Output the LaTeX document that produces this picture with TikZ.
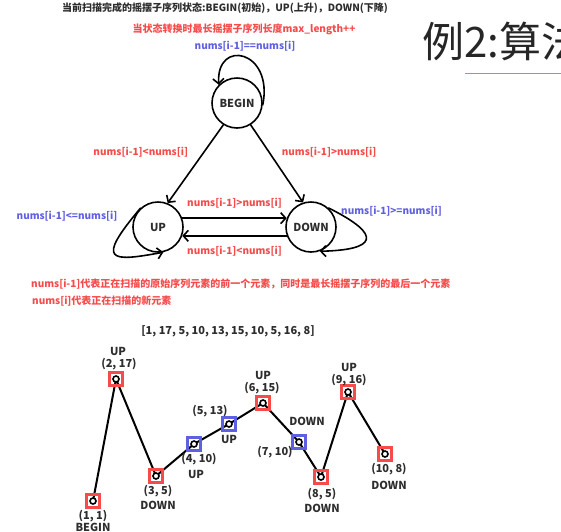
\documentclass[tikz,border=0pt]{standalone}
\usepackage{fontspec}
\setmainfont{Noto Sans CJK SC}
\usetikzlibrary{arrows.meta}
\definecolor{lblred}{RGB}{245,75,75}
\definecolor{lblblue}{RGB}{95,95,225}
\definecolor{inkgray}{RGB}{45,45,45}
\tikzset{
  state/.style={circle, draw=black, line width=1.6pt, minimum size=50pt, inner sep=0pt,
    text=inkgray, font=\fontsize{11}{12}\selectfont\bfseries},
  trans/.style={line width=1.6pt, -{Straight Barb[length=5pt,width=11pt]}},
  redtext/.style={text=lblred, inner sep=1pt, font=\fontsize{10}{12}\selectfont\bfseries},
  bluetext/.style={text=lblblue, inner sep=1pt, font=\fontsize{10}{12}\selectfont\bfseries},
  ptred/.style={draw=lblred, line width=2.3pt, minimum size=13pt, inner sep=0pt},
  ptblue/.style={draw=lblblue, line width=2.3pt, minimum size=13pt, inner sep=0pt},
  ptlabel/.style={text=inkgray, inner sep=0pt, font=\fontsize{11}{13}\selectfont\bfseries},
}
\begin{document}
\begin{tikzpicture}[x=1pt, y=-1pt]
	\useasboundingbox (0,0) rectangle (561,531);
	\clip (0,0) rectangle (561,531);

	% Header texts
	\node[text=inkgray, font=\fontsize{10}{12}\selectfont\bfseries] (title) at (225,8)
		{当前扫描完成的摇摆子序列状态:BEGIN(初始)，UP(上升)，DOWN(下降)};
	\node[redtext] (rule) at (244,29) {当状态转换时最长摇摆子序列长度max\_length++};
	\node[anchor=west, text=black!85, font=\fontsize{42}{46}\selectfont] (slide) at (419,41) {例2:算法};
	\coordinate (ulA) at (465,73);
	\coordinate (ulB) at (561,73);
	\draw[lblred!80, line width=1pt] (ulA) -- (ulB);

	% The three states
	\node[state] (begin) at (237,103) {BEGIN};
	\node[state] (up) at (158,227) {UP};
	\node[state] (down) at (311,227) {DOWN};

	% Transitions
	\draw[trans] (begin.-5) .. controls (274,50) and (216,38) .. (begin.135);
	\node[bluetext] (eqlbl) at (245,46) {nums[i-1]==nums[i]};
	\draw[trans] (begin.238) -- (up.68)
		node[pos=.35, left=14pt, redtext] (bulbl) {nums[i-1]<nums[i]};
	\draw[trans] (begin.-58) -- (down.108)
		node[pos=.35, right=11pt, redtext] (bdlbl) {nums[i-1]>nums[i]};
	\draw[trans] (up.20) -- (down.160)
		node[midway, above=8pt, redtext] (udlbl) {nums[i-1]>nums[i]};
	\draw[trans] (down.200) -- (up.-20)
		node[midway, below=9pt, redtext] (dulbl) {nums[i-1]<nums[i]};
	\draw[trans] (up.132) .. controls (95,262) and (110,262) .. (up.-78);
	\draw[trans] (down.48) .. controls (385,236) and (375,250) .. (down.-70);
	\node[bluetext] (uplbl) at (67,216) {nums[i-1]<=nums[i]};
	\node[bluetext, anchor=west] (downlbl) at (340,211) {nums[i-1]>=nums[i]};

	% Notes
	\node[redtext, anchor=west] (note1) at (30,284)
		{nums[i-1]代表正在扫描的原始序列元素的前一个元素，同时是最长摇摆子序列的最后一个元素};
	\node[redtext, anchor=west] (note2) at (31,301) {nums[i]代表正在扫描的新元素};
	\node[ptlabel] (seq) at (228,331) {[1, 17, 5, 10, 13, 15, 10, 5, 16, 8]};

	% Points of the sequence
	\coordinate (p1) at (93,501);
	\coordinate (p2) at (116,379);
	\coordinate (p3) at (156,476);
	\coordinate (p4) at (194,444);
	\coordinate (p5) at (229,424);
	\coordinate (p6) at (263,403);
	\coordinate (p7) at (299,442);
	\coordinate (p8) at (321,477);
	\coordinate (p9) at (348,392);
	\coordinate (p10) at (385,454);

	% Draw the zigzag
	\draw[line width=2pt] (p1) -- (p2) -- (p3) -- (p4) -- (p5) -- (p6) -- (p7) -- (p8) -- (p9) -- (p10);

	% Mark the points
	\node[ptred] (m1) at (p1) {};
	\node[ptred] (m2) at (p2) {};
	\node[ptred] (m3) at (p3) {};
	\node[ptblue] (m4) at (p4) {};
	\node[ptblue] (m5) at (p5) {};
	\node[ptred] (m6) at (p6) {};
	\node[ptblue] (m7) at (p7) {};
	\node[ptred] (m8) at (p8) {};
	\node[ptred] (m9) at (p9) {};
	\node[ptred] (m10) at (p10) {};
	\foreach \i in {1,...,10}
		\draw[line width=1.6pt, fill=white] (p\i) circle (3pt);

	% Label the points
	\node[ptlabel] (c1) at (93,516) {(1, 1)};
	\node[ptlabel] (s1) at (93,527) {BEGIN};
	\node[ptlabel] (s2) at (118,351) {UP};
	\node[ptlabel] (c2) at (119,364) {(2, 17)};
	\node[ptlabel] (c3) at (158,491) {(3, 5)};
	\node[ptlabel] (s3) at (158,505) {DOWN};
	\node[ptlabel] (c4) at (199,459) {(4, 10)};
	\node[ptlabel] (s4) at (196,474) {UP};
	\node[ptlabel] (c5) at (210,411) {(5, 13)};
	\node[ptlabel] (s5) at (229,439) {UP};
	\node[ptlabel] (s6) at (263,375) {UP};
	\node[ptlabel] (c6) at (262,388) {(6, 15)};
	\node[ptlabel] (s7) at (307,421) {DOWN};
	\node[ptlabel] (c7) at (275,452) {(7, 10)};
	\node[ptlabel] (c8) at (322,494) {(8, 5)};
	\node[ptlabel] (s8) at (322,508) {DOWN};
	\node[ptlabel] (s9) at (349,367) {UP};
	\node[ptlabel] (c9) at (349,380) {(9, 16)};
	\node[ptlabel] (c10) at (389,469) {(10, 8)};
	\node[ptlabel] (s10) at (389,485) {DOWN};
\end{tikzpicture}
\end{document}
